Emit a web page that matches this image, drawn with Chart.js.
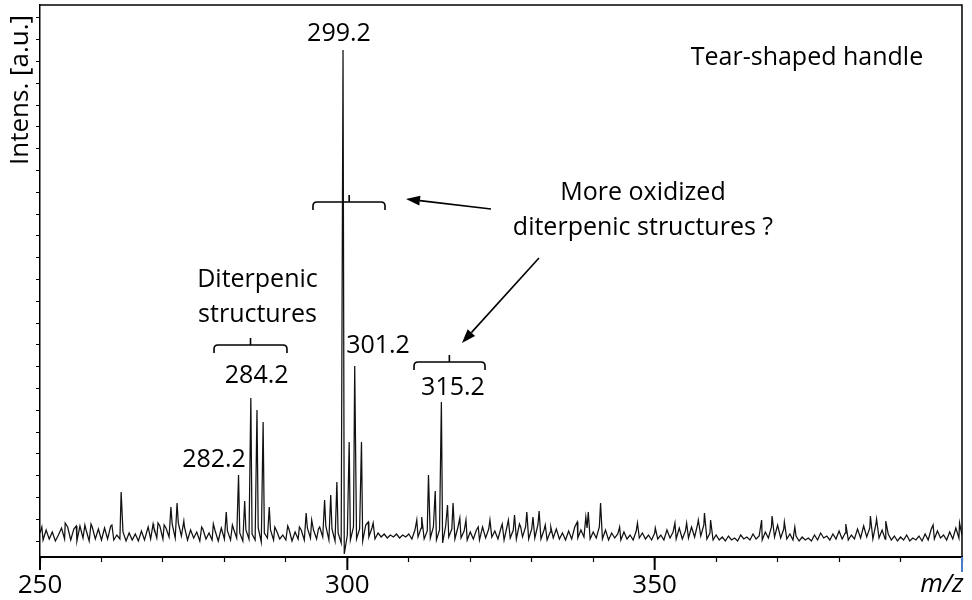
<!DOCTYPE html>
<html>
<head>
<meta charset="utf-8">
<script src="https://cdn.jsdelivr.net/npm/chart.js@4.4.0/dist/chart.umd.min.js"></script>
<style>
    html, body { margin: 0; padding: 0; background: #fff; }
    canvas { display: block; }
</style>
</head>
<body>
<canvas id="spectrumChart" width="972" height="600"></canvas>
<script>
// Dữ liệu phổ: nền nhiễu theo lưới m/z 0.5, cộng các đỉnh
const mzStart = 250;
const mzStep = 0.5;
const noiseIntens = [
    24,17,27,18,25,16,22,29,18,30,17,28,16,31,19,27,16,30,18,28, // 250
    17,29,18,31,17,22,18,25,16,24,17,23,16,26,17,28,18,30,19,31, // 260
    18,29,20,33,19,34,21,30,17,27,19,25,16,28,18,24,17,26,16,29, // 270
    18,26,17,28,19,24,16,27,18,23,17,29,15,24,19,27,17,26,18,22, // 280
    17,28,16,25,18,27,17,29,19,27,18,30,20,31,17,28,16,24,14,3,  // 290
    22,17,30,18,28,16,32,20,29,18,24,20,23,19,22,20,23,19,22,20, // 300
    23,18,27,20,29,18,26,19,30,17,27,14,31,20,28,18,30,19,26,17, // 310
    25,18,27,17,30,19,28,20,26,18,29,17,31,19,27,18,33,20,30,18, // 320
    28,19,32,18,27,17,25,19,28,18,24,17,26,18,30,19,27,20,29,18, // 330
    25,19,30,18,27,17,24,19,23,17,25,18,22,17,26,19,24,18,22,17, // 340
    24,18,22,17,27,19,25,18,29,18,26,19,30,20,33,21,32,18,24,17, // 350
    22,17,20,16,21,17,19,16,22,18,20,17,23,18,21,17,25,19,30,20, // 360
    32,19,28,18,23,17,21,16,20,17,19,16,22,17,24,19,21,17,23,18, // 370
    26,18,24,17,22,18,28,19,31,20,29,18,33,19,27,18,23,17,21,16, // 380
    20,17,22,16,19,17,21,16,23,17,28,18,26,19,22,17,25,18,29,19, // 390
    22
];
const peakMz = [
    250.3, 254.1, 255.9, 257.3, 258.3, 261.7, 263.2, 267.6, 268.4, 269.2, 270.2,
    271.3, 272.3, 273.4, 276.3, 278.2, 280.3, 281.3, 282.3, 283.3, 284.3, 285.3,
    286.3, 287.3, 288.2, 290.3, 292.2, 293.3, 294.2, 295.3, 296.3, 297.3, 298.3,
    299.3, 300.3, 301.2, 302.3, 303.4, 304.2, 311.3, 312.1, 313.2, 314.3, 315.3,
    316.3, 317.2, 318.3, 319.3, 321.3, 323.2, 325.2, 326.2, 327.2, 328.2, 329.2,
    330.2, 331.2, 332.2, 333.1, 337.4, 338.8, 339.2, 341.2, 344.3, 347.2, 350.1,
    353.3, 355.2, 357.1, 358.1, 359.1, 367.4, 369.1, 371.1, 372.8, 381.1, 385.1,
    386.1, 387.6, 395.3, 399.6
];
const peakIntens = [
    30, 34, 31, 32, 33, 32, 65, 30, 33, 34, 32,
    50, 54, 36, 30, 33, 45, 32, 82, 56, 159, 147,
    135, 50, 30, 31, 30, 44, 37, 28, 57, 62, 75,
    507, 115, 191, 115, 35, 34, 37, 40, 82, 66, 155,
    52, 54, 39, 37, 30, 37, 33, 37, 42, 30, 45,
    40, 46, 32, 30, 35, 40, 45, 54, 30, 34, 29,
    34, 34, 37, 44, 37, 37, 41, 35, 30, 33, 41,
    38, 36, 32, 34
];
const xMin = 250;
const xMax = 400;
const xTickLabels = [250, 300, 350];
const xMinorStep = 10;
const yMax = 552;
const yTickStart = 16;
const yTickStep = 21.8;
const yTickCount = 25;

// Ghép nền + đỉnh thành một đường
const points = [];
for (let i = 0; i < noiseIntens.length; i++) {
    points.push({ x: mzStart + i * mzStep, y: noiseIntens[i] });
}
for (let i = 0; i < peakMz.length; i++) {
    points.push({ x: peakMz[i], y: peakIntens[i] });
}
points.sort((a, b) => a.x - b.x);

const yTicks = [];
for (let k = 0; k < yTickCount; k++) {
    yTicks.push({ value: yTickStart + k * yTickStep });
}

const FONT = '"Open Sans", "DejaVu Sans", sans-serif';

// Chú thích, ngoặc, mũi tên (toạ độ theo m/z và cường độ)
const annotationPlugin = {
    id: 'annotations',
    afterDraw(chart) {
        const c = chart.ctx;
        const xs = chart.scales.x;
        const ys = chart.scales.y;
        const area = chart.chartArea;
        const px = v => xs.getPixelForValue(v);
        const py = v => ys.getPixelForValue(v);

        c.save();
        c.strokeStyle = '#000';
        c.fillStyle = '#000';

        // khung trên và phải
        c.lineWidth = 1.5;
        c.beginPath();
        c.moveTo(area.left, area.top);
        c.lineTo(area.right, area.top);
        c.lineTo(area.right, area.bottom);
        c.stroke();

        // vạch chia chính trục x
        c.lineWidth = 2;
        xTickLabels.forEach(v => {
            c.beginPath();
            c.moveTo(px(v), area.bottom);
            c.lineTo(px(v), area.bottom + 13);
            c.stroke();
        });
        c.strokeStyle = '#4a7ac8';
        c.beginPath();
        c.moveTo(px(xMax), area.bottom);
        c.lineTo(px(xMax), area.bottom + 15);
        c.stroke();
        c.strokeStyle = '#000';

        // nhãn m/z
        c.font = 'italic 26px ' + FONT;
        c.textAlign = 'center';
        c.textBaseline = 'alphabetic';
        c.fillText('m/z', px(xMax) - 20, 592);

        // tiêu đề trục y
        c.save();
        c.font = '26px ' + FONT;
        c.translate(28, 90);
        c.rotate(-Math.PI / 2);
        c.fillText('Intens. [a.u.]', 0, 0);
        c.restore();

        // nhãn đỉnh
        c.font = '25px ' + FONT;
        const labels = [
            ['299.2', 298.64, 516],
            ['284.2', 285.25, 174],
            ['282.2', 278.31, 90],
            ['301.2', 304.99, 204],
            ['315.2', 317.19, 162]
        ];
        labels.forEach(l => c.fillText(l[0], px(l[1]), py(l[2])));

        c.font = '25px ' + FONT;
        const notes = [
            ['Tear-shaped handle', 374.78, 492],
            ['More oxidized', 348.1, 357],
            ['diterpenic structures ?', 348.1, 322],
            ['Diterpenic', 285.38, 270],
            ['structures', 285.38, 235]
        ];
        notes.forEach(l => c.fillText(l[0], px(l[1]), py(l[2])));

        // ngoặc
        c.lineWidth = 1.6;
        function bracket(m1, m2, mc, v) {
            const x1 = px(m1), x2 = px(m2), xm = px(mc), y = py(v);
            const r = 4, hook = 8, tip = 7;
            c.beginPath();
            c.moveTo(x1, y + hook);
            c.lineTo(x1, y + r);
            c.quadraticCurveTo(x1, y, x1 + r, y);
            c.lineTo(x2 - r, y);
            c.quadraticCurveTo(x2, y, x2, y + r);
            c.lineTo(x2, y + hook);
            c.moveTo(xm, y);
            c.lineTo(xm, y - tip);
            c.stroke();
        }
        bracket(278.31, 290.18, 284.25, 212);
        bracket(310.85, 322.4, 316.6, 195);
        bracket(294.41, 306.13, 300.3, 355);

        // mũi tên
        function arrow(m1, v1, m2, v2) {
            const x1 = px(m1), y1 = py(v1), x2 = px(m2), y2 = py(v2);
            const ang = Math.atan2(y2 - y1, x2 - x1);
            const len = 14, w = 5;
            const bx = x2 - len * Math.cos(ang), by = y2 - len * Math.sin(ang);
            c.beginPath();
            c.moveTo(x1, y1);
            c.lineTo(bx, by);
            c.stroke();
            c.beginPath();
            c.moveTo(x2, y2);
            c.lineTo(bx + w * Math.sin(ang), by - w * Math.cos(ang));
            c.lineTo(bx - w * Math.sin(ang), by + w * Math.cos(ang));
            c.closePath();
            c.fill();
        }
        arrow(323.37, 348, 309.54, 358);
        arrow(331.18, 299, 318.65, 214);

        c.restore();
    }
};

const ctx = document.getElementById('spectrumChart').getContext('2d');
const spectrumChart = new Chart(ctx, {
    type: 'line',
    data: {
        datasets: [{
            data: points,
            borderColor: '#111',
            borderWidth: 1.25,
            pointRadius: 0,
            tension: 0,
            fill: false
        }]
    },
    options: {
        responsive: false,
        animation: false,
        layout: { padding: { left: 0, right: 10, top: 5, bottom: 0 } },
        plugins: {
            legend: { display: false },
            tooltip: { enabled: false }
        },
        scales: {
            x: {
                type: 'linear',
                min: xMin,
                max: xMax,
                ticks: {
                    stepSize: xMinorStep,
                    autoSkip: false,
                    maxRotation: 0,
                    padding: 8,
                    color: '#000',
                    font: { family: FONT, size: 26 },
                    callback: v => xTickLabels.includes(v) ? String(v) : ''
                },
                grid: { drawOnChartArea: false, drawTicks: true, tickLength: 5, tickColor: '#000', tickWidth: 1.2 },
                border: { color: '#000', width: 2 },
                afterFit: s => { s.height = 43; s.paddingLeft = 0; s.paddingRight = 0; }
            },
            y: {
                min: 0,
                max: yMax,
                afterBuildTicks: s => { s.ticks = yTicks.slice(); },
                ticks: { callback: () => '', padding: 0 },
                grid: { drawOnChartArea: false, drawTicks: true, tickLength: 4, tickColor: '#000', tickWidth: 1 },
                border: { color: '#000', width: 1.5 },
                afterFit: s => { s.width = 40; s.paddingTop = 0; s.paddingBottom = 0; }
            }
        }
    },
    plugins: [annotationPlugin]
});
</script>
</body>
</html>
